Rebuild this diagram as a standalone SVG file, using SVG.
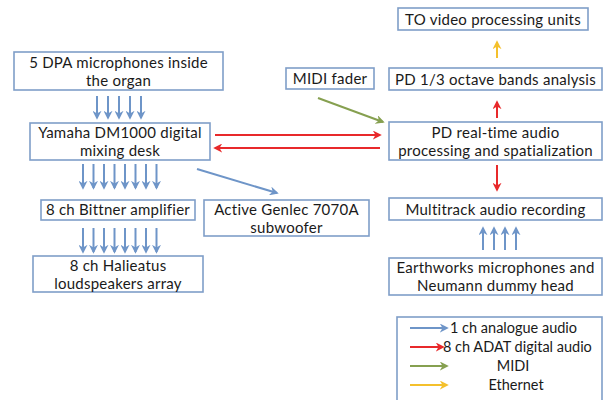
<svg xmlns="http://www.w3.org/2000/svg" width="605" height="400" viewBox="0 0 605 400">
<defs>
<style>
.box{fill:#fff;stroke:#7f9ec8;stroke-width:1.6}
.t{font-family:Lato,"Open Sans",sans-serif;font-size:15px;letter-spacing:0.25px;fill:#1a1a1a;text-anchor:middle}
.tl{font-family:Lato,"Open Sans",sans-serif;font-size:14.5px;fill:#1a1a1a}
.b{stroke:#6e95c8;stroke-width:2;fill:none}
.r{stroke:#e8292b;stroke-width:2;fill:none}
.g{stroke:#86a050;stroke-width:2;fill:none}
.y{stroke:#f4c02c;stroke-width:2;fill:none}
</style>
<marker id="mb" viewBox="0 0 10 10" refX="8" refY="5" markerWidth="4.5" markerHeight="4.5" orient="auto" markerUnits="strokeWidth"><path d="M0,0 L10,5 L0,10 L3,5 z" fill="#6e95c8"/></marker>
<marker id="mr" viewBox="0 0 10 10" refX="8" refY="5" markerWidth="4.5" markerHeight="4.5" orient="auto" markerUnits="strokeWidth"><path d="M0,0 L10,5 L0,10 L3,5 z" fill="#e8292b"/></marker>
<marker id="mg" viewBox="0 0 10 10" refX="8" refY="5" markerWidth="4.5" markerHeight="4.5" orient="auto" markerUnits="strokeWidth"><path d="M0,0 L10,5 L0,10 L3,5 z" fill="#86a050"/></marker>
<marker id="my" viewBox="0 0 10 10" refX="8" refY="5" markerWidth="4.5" markerHeight="4.5" orient="auto" markerUnits="strokeWidth"><path d="M0,0 L10,5 L0,10 L3,5 z" fill="#f4c02c"/></marker>
</defs>
<rect width="605" height="400" fill="#fff"/>

<g id="connectors">
<g marker-end="url(#mb)" class="b">
<line x1="97" y1="96" x2="97" y2="118"/><line x1="108" y1="96" x2="108" y2="118"/><line x1="119" y1="96" x2="119" y2="118"/><line x1="130" y1="96" x2="130" y2="118"/><line x1="141" y1="96" x2="141" y2="118"/>
<line x1="83" y1="164" x2="83" y2="188"/><line x1="93.5" y1="164" x2="93.5" y2="188"/><line x1="104" y1="164" x2="104" y2="188"/><line x1="114.5" y1="164" x2="114.5" y2="188"/><line x1="125" y1="164" x2="125" y2="188"/><line x1="135.5" y1="164" x2="135.5" y2="188"/><line x1="146" y1="164" x2="146" y2="188"/><line x1="156.5" y1="164" x2="156.5" y2="188"/>
<line x1="83" y1="228" x2="83" y2="252"/><line x1="93.5" y1="228" x2="93.5" y2="252"/><line x1="104" y1="228" x2="104" y2="252"/><line x1="114.5" y1="228" x2="114.5" y2="252"/><line x1="125" y1="228" x2="125" y2="252"/><line x1="135.5" y1="228" x2="135.5" y2="252"/><line x1="146" y1="228" x2="146" y2="252"/><line x1="156.5" y1="228" x2="156.5" y2="252"/>
<line x1="197" y1="169" x2="277" y2="193"/>
<line x1="483" y1="250" x2="483" y2="228"/><line x1="494" y1="250" x2="494" y2="228"/><line x1="505" y1="250" x2="505" y2="228"/><line x1="516" y1="250" x2="516" y2="228"/>
</g>
<g marker-end="url(#mr)" class="r">
<line x1="215" y1="135" x2="380" y2="135"/>
<line x1="380" y1="148" x2="215" y2="148"/>
<line x1="497" y1="118" x2="497" y2="102"/>
<line x1="497" y1="165" x2="497" y2="190"/>
</g>
<line class="g" marker-end="url(#mg)" x1="318" y1="98" x2="383" y2="122"/>
<line class="y" marker-end="url(#my)" x1="497" y1="58" x2="497" y2="42"/>
</g>

<g id="dpa"><rect class="box" x="14" y="52" width="209" height="38"/><text class="t" x="118.5" y="68">5 DPA microphones inside</text><text class="t" x="118.5" y="86">the organ</text></g>
<g id="yamaha"><rect class="box" x="30" y="123" width="180" height="37"/><text class="t" x="120" y="138">Yamaha DM1000 digital</text><text class="t" x="120" y="156">mixing desk</text></g>
<g id="bittner"><rect class="box" x="41" y="200" width="154" height="20"/><text class="t" x="118" y="215">8 ch Bittner amplifier</text></g>
<g id="halieatus"><rect class="box" x="33" y="256" width="170" height="36"/><text class="t" x="118" y="271">8 ch Halieatus</text><text class="t" x="118" y="289">loudspeakers array</text></g>
<g id="subwoofer"><rect class="box" x="204" y="200" width="165" height="36"/><text class="t" x="286.5" y="215">Active Genlec 7070A</text><text class="t" x="286.5" y="233">subwoofer</text></g>
<g id="midi"><rect class="box" x="286" y="68" width="88" height="21"/><text class="t" x="330" y="84">MIDI fader</text></g>
<g id="video"><rect class="box" x="398" y="8" width="190" height="22"/><text class="t" x="493" y="24.5">TO video processing units</text></g>
<g id="octave"><rect class="box" x="389" y="68" width="213" height="22"/><text class="t" x="495.5" y="84.5">PD 1/3 octave bands analysis</text></g>
<g id="pd"><rect class="box" x="389" y="122" width="213" height="38"/><text class="t" x="495.5" y="138">PD real-time audio</text><text class="t" x="495.5" y="156">processing and spatialization</text></g>
<g id="multitrack"><rect class="box" x="389" y="198" width="213" height="22"/><text class="t" x="495.5" y="214.5">Multitrack audio recording</text></g>
<g id="earthworks"><rect class="box" x="389" y="258" width="213" height="37"/><text class="t" x="495.5" y="273">Earthworks microphones and</text><text class="t" x="495.5" y="291">Neumann dummy head</text></g>

<g id="legend">
<rect class="box" x="397" y="317" width="205" height="90"/>
<line class="b" marker-end="url(#mb)" x1="410" y1="328" x2="447" y2="328"/>
<line class="r" marker-end="url(#mr)" x1="410" y1="347" x2="443" y2="347"/>
<line class="g" marker-end="url(#mg)" x1="410" y1="366" x2="447" y2="366"/>
<line class="y" marker-end="url(#my)" x1="410" y1="385" x2="447" y2="385"/>
<text class="tl" x="450" y="333">1 ch analogue audio</text>
<text class="tl" x="443" y="352">8 ch ADAT digital audio</text>
<text class="tl" x="513" y="371" text-anchor="middle">MIDI</text>
<text class="tl" x="516" y="390" text-anchor="middle">Ethernet</text>
</g>
</svg>
